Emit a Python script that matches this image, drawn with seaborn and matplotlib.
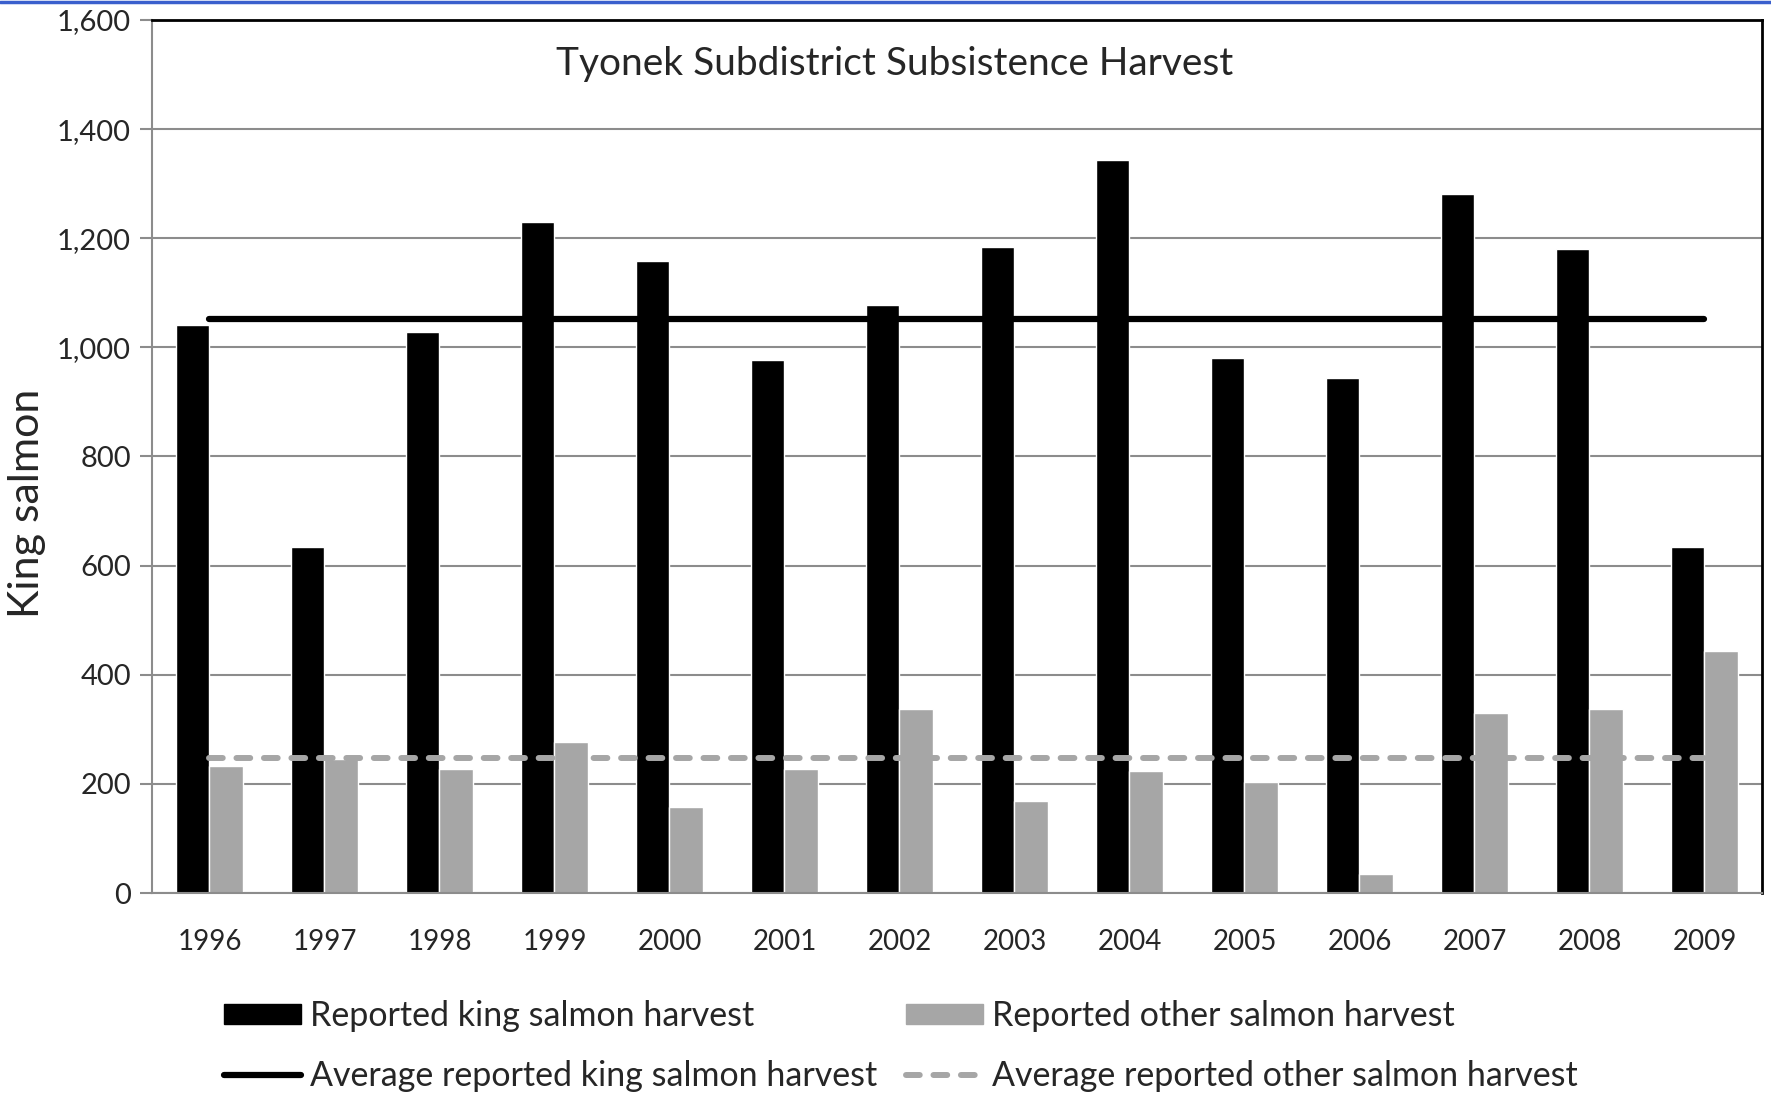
import pandas as pd
import seaborn as sns
import matplotlib.pyplot as plt
from matplotlib.lines import Line2D
from matplotlib.ticker import FuncFormatter, FixedLocator

# valores
anos = ['1996', '1997', '1998', '1999', '2000', '2001', '2002',
        '2003', '2004', '2005', '2006', '2007', '2008', '2009']
rei = [1041, 635, 1029, 1230, 1159, 977, 1078, 1184, 1343, 981, 944, 1281, 1180, 635]
outros = [232, 245, 228, 277, 157, 228, 337, 168, 224, 203, 35, 329, 337, 443]
media_rei = 1052
media_outros = 247

serie_rei = 'Reported king salmon harvest'
serie_outros = 'Reported other salmon harvest'

df = pd.DataFrame({'Ano': anos * 2,
                   'Valor': rei + outros,
                   'Serie': [serie_rei] * len(anos) + [serie_outros] * len(anos)})

sns.set_style('white')
plt.rcParams['font.family'] = ['Lato', 'DejaVu Sans']

fig = plt.figure(figsize=(17.71, 10.96), dpi=100)
ax = fig.add_axes([0.0858, 0.1852, 0.9091, 0.7966])

cinza = '#a6a6a6'
tracejado = (0, (2.3, 2.3))
sns.barplot(data=df, x='Ano', y='Valor', hue='Serie', order=anos,
            hue_order=[serie_rei, serie_outros], palette=['black', cinza],
            saturation=1, width=0.58, legend=False, ax=ax)

# linhas das medias
xs = list(range(len(anos)))
ax.plot(xs, [media_rei] * len(anos), color='black', lw=4.5, solid_capstyle='round', zorder=4)
ax.plot(xs, [media_outros] * len(anos), color=cinza, lw=4.3, ls=tracejado,
        dash_capstyle='round', zorder=4)

ax.set_ylim(0, 1600)
ax.set_xlim(-0.5, len(anos) - 0.5)
ax.set_yticks(range(0, 1601, 200))
ax.yaxis.set_major_formatter(FuncFormatter(lambda v, p: f'{int(v):,}'))
ax.grid(axis='y', color='#8c8c8c', lw=1.5)
ax.set_axisbelow(True)

ax.xaxis.set_minor_locator(FixedLocator([i - 0.5 for i in range(len(anos) + 1)]))
ax.tick_params(axis='x', which='major', length=0, labelsize=20, pad=26)
ax.tick_params(axis='x', which='minor', length=9, width=1.5, color='#8c8c8c', direction='out')
ax.tick_params(axis='y', length=9, width=1.5, color='#8c8c8c', labelsize=21, pad=6, left=True)

for lado in ['left', 'bottom']:
    ax.spines[lado].set_color('#8c8c8c')
    ax.spines[lado].set_linewidth(1.5)
for lado in ['top', 'right']:
    ax.spines[lado].set_color('black')
    ax.spines[lado].set_linewidth(2)

ax.set_xlabel('')
ax.set_ylabel('King salmon', fontsize=31, labelpad=8)
ax.yaxis.label.set_y(0.446)
ax.text(0.461, 0.95, 'Tyonek Subdistrict Subsistence Harvest', transform=ax.transAxes,
        ha='center', va='center', fontsize=28)

handles = [plt.Rectangle((0, 0), 1, 1, color='black'),
           Line2D([], [], color='black', lw=4.5, solid_capstyle='round'),
           plt.Rectangle((0, 0), 1, 1, color=cinza),
           Line2D([], [], color=cinza, lw=4.3, ls=tracejado, dash_capstyle='round')]
labels = [serie_rei, 'Average reported king salmon harvest',
          serie_outros, 'Average reported other salmon harvest']
fig.legend(handles, labels, ncol=2, loc='upper left', bbox_to_anchor=(0.117, 0.103),
           frameon=False, fontsize=24.5, handlelength=2.25, handleheight=0.55,
           handletextpad=0.27, columnspacing=0.85, labelspacing=0.83, borderpad=0)

fig.add_artist(Line2D([0, 1], [0.9985, 0.9985], transform=fig.transFigure,
                      color='#3a5fcd', lw=2.5))

fig.savefig('out.png', dpi=100)
